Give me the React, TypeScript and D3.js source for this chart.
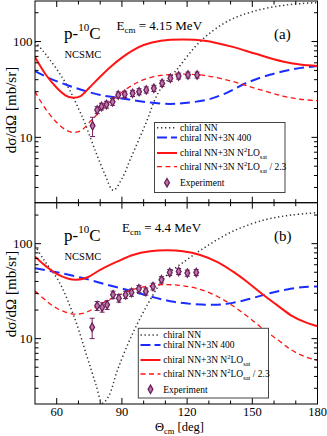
import React from "react";
import * as d3 from "d3";

// ---------- data (theta in deg, dσ/dΩ in mb/sr) ----------
const X_MAJOR = [60, 90, 120, 150, 180];
const X_MINOR = [70, 80, 100, 110, 130, 140, 160, 170];
const Y_MAJOR = [10, 100];
const Y_MINOR = [3, 4, 5, 6, 7, 8, 9, 20, 30, 40, 50, 60, 70, 80, 90, 200];
const X_LABELS = ["60", "90", "120", "150", "180"];
const Y_LABELS = ["10", "100"];

const chiralNN_a: [number, number][] = [
  [50, 100], [54, 78], [57, 64], [62, 44], [66, 31], [70, 20], [73, 14], [78, 7], [82, 4.2],
  [86, 2.8], [90, 3.7], [94, 6], [101, 14], [107, 30], [115, 50], [126, 100], [138, 160],
  [150, 205], [165, 240], [180, 255],
];
const n2loSat_a: [number, number][] = [
  [50, 69], [55, 45], [60, 33], [64, 27.5], [67, 26], [71, 27], [75, 33], [80, 43], [85, 55],
  [90, 68], [95, 81], [100, 92], [108, 102], [118, 105], [128, 102], [141, 88], [152, 74],
  [164, 62], [172, 57.5], [180, 55.5],
];
const n3n400_a: [number, number][] = [
  [50, 49], [57, 41], [65, 35], [72, 31], [80, 27.7], [90, 25.5], [100, 23.5], [112, 22.3],
  [120, 23], [129, 24.6], [138, 29], [147, 36.7], [158, 45], [170, 52], [180, 55.5],
];
const n2loSatScaled_a: [number, number][] = [
  [50, 30], [55, 19.6], [60, 14.3], [64, 12], [67, 11.3], [71, 11.7], [75, 14.3], [80, 18.7],
  [85, 23.9], [90, 29.6], [95, 35.2], [100, 40], [108, 44.3], [118, 45.7], [128, 44.3],
  [141, 38.3], [152, 32.2], [164, 27], [172, 25], [180, 24.1],
];
const expTheta_a = [76.5, 78.6, 80.6, 82.9, 85.7, 88.3, 91.3, 94.9, 97.9, 101.2, 104.7, 108.5, 112.3, 116.1, 120.4, 124.6];
const expVal_a = [13.2, 19.3, 21, 22, 23.5, 27.7, 28.2, 28.8, 30, 31.3, 32.5, 36.7, 41.4, 43.7, 44.8, 44.8];
const expErr_a = [3, 1.6, 1.7, 1.8, 1.9, 2.1, 2.1, 2.1, 2.2, 2.3, 2.4, 2.7, 3, 3.1, 3.2, 3.2];

const chiralNN_b: [number, number][] = [
  [50, 95], [54, 68], [61, 40], [68, 17], [74, 6.4], [78, 3.3], [81, 2.1], [84, 2.5], [88, 4.7],
  [95, 11.4], [103, 25.6], [110, 45], [120, 68], [129, 94], [141, 135], [156, 179], [168, 200],
  [180, 212],
];
const n2loSat_b: [number, number][] = [
  [50, 73], [55, 58], [60, 48], [65, 43], [69, 41.7], [74, 44], [80, 53], [88, 65], [95, 76],
  [103, 83], [111, 85], [118, 83], [126, 76], [134, 64], [141, 51], [148, 39], [155, 29],
  [162, 22], [168, 17.5], [174, 15], [180, 13.5],
];
const n3n400_b: [number, number][] = [
  [50, 55], [60, 50], [72, 43.4], [84, 36.5], [95, 31.4], [104, 27.5], [113, 24.6], [122, 23.2],
  [132, 22.7], [141, 23.8], [150, 26.7], [158, 30], [166, 33], [174, 35], [180, 35.4],
];
const n2loSatScaled_b: [number, number][] = [
  [50, 31.7], [55, 25.2], [60, 20.9], [65, 18.7], [69, 18.1], [74, 19.1], [80, 23], [88, 28.3],
  [95, 33], [103, 36.1], [111, 37], [118, 36.1], [126, 33], [134, 27.8], [141, 22.2], [148, 17],
  [155, 12.6], [162, 9.6], [168, 7.6], [174, 6.5], [180, 5.9],
];
const expTheta_b = [76.3, 78.6, 80.9, 83.2, 85.9, 88.6, 91.7, 94.4, 97.8, 101, 104.3, 108.2, 112, 116.1, 120.1, 124.2];
const expVal_b = [13.2, 22.2, 21.4, 22.7, 29, 26.7, 29, 30.6, 33.5, 31.4, 35.4, 41.7, 49.8, 51, 49, 49.8];
const expErr_b = [3.2, 2.4, 2.4, 2.4, 2.6, 2.5, 2.6, 2.7, 2.8, 2.7, 2.9, 3.2, 3.6, 3.7, 3.6, 3.6];

const LEGEND_LABELS = ["chiral NN", "chiral NN+3N 400", "chiral NN+3N N", "chiral NN+3N N", "Experiment"];

// ---------- layout ----------
const W = 327;
const H = 436;
const FONT = "'Liberation Serif', 'Times New Roman', serif";
const X0 = 35;
const X1 = 317.5;
const COL = {
  nn: "#333333",
  blue: "#1a2cff",
  red: "#ff1414",
  exp: "#6e1f5c",
  expFill: "#b87aa8",
};

type PanelProps = {
  top: number;
  bottom: number;
  yDomain: [number, number];
  nn: [number, number][];
  sat: [number, number][];
  n400: [number, number][];
  satScaled: [number, number][];
  expTheta: number[];
  expVal: number[];
  expErr: number[];
  energy: string;
  tag: string;
  id: string;
  labelY: number;
  legend: { x0: number; y0: number; x1: number; y1: number; rows: number[]; sx0: number; sx1: number; tx: number };
  bottomAxis: boolean;
};

function Panel(p: PanelProps) {
  const x = d3.scaleLinear().domain([50, 180]).range([X0, X1]);
  const y = d3.scaleLog().domain(p.yDomain).range([p.bottom, p.top]);
  const line = d3
    .line<[number, number]>()
    .x((d) => x(d[0]))
    .y((d) => y(d[1]))
    .curve(d3.curveCatmullRom.alpha(0.5));
  const clip = `clip-${p.id}`;
  const yMin = Math.min(...p.yDomain);
  const yMax = Math.max(...p.yDomain);
  const L = p.legend;
  const markerPath = d3.symbol().type(d3.symbolDiamond).size(20)() as string;
  return (
    <g>
      <defs>
        <clipPath id={clip}>
          <rect x={X0} y={p.top} width={X1 - X0} height={p.bottom - p.top} />
        </clipPath>
      </defs>
      <g clipPath={`url(#${clip})`} fill="none">
        <path d={line(p.nn) as string} stroke={COL.nn} strokeWidth={1.5} strokeDasharray="1.3 2.7" />
        <path d={line(p.n400) as string} stroke={COL.blue} strokeWidth={2} strokeDasharray="10 5" />
        <path d={line(p.sat) as string} stroke={COL.red} strokeWidth={2} />
        <path d={line(p.satScaled) as string} stroke={COL.red} strokeWidth={1.3} strokeDasharray="5 3.5" />
        {p.expTheta.map((t, i) => {
          const cx = x(t);
          const lo = y(p.expVal[i] - p.expErr[i]);
          const hi = y(p.expVal[i] + p.expErr[i]);
          return (
            <g key={i} stroke={COL.exp} strokeWidth={1}>
              <line x1={cx} x2={cx} y1={lo} y2={hi} />
              <line x1={cx - 2.5} x2={cx + 2.5} y1={lo} y2={lo} />
              <line x1={cx - 2.5} x2={cx + 2.5} y1={hi} y2={hi} />
              <path d={markerPath} transform={`translate(${cx},${y(p.expVal[i])})`} fill={COL.expFill} strokeWidth={1.3} />
            </g>
          );
        })}
      </g>
      {/* frame */}
      <rect x={X0} y={p.top} width={X1 - X0} height={p.bottom - p.top} fill="none" stroke="#000" strokeWidth={1} />
      {/* x ticks top & bottom */}
      {X_MAJOR.concat(X_MINOR).map((t) => {
        const len = X_MAJOR.includes(t) ? 6 : 3.5;
        return (
          <g key={`xt${t}`} stroke="#000" strokeWidth={1}>
            <line x1={x(t)} x2={x(t)} y1={p.top} y2={p.top + len} />
            <line x1={x(t)} x2={x(t)} y1={p.bottom} y2={p.bottom - len} />
          </g>
        );
      })}
      {/* y ticks left & right */}
      {Y_MAJOR.concat(Y_MINOR)
        .filter((v) => v > yMin && v < yMax)
        .map((v) => {
          const len = Y_MAJOR.includes(v) ? 6 : 3.5;
          return (
            <g key={`yt${v}`} stroke="#000" strokeWidth={1}>
              <line x1={X0} x2={X0 + len} y1={y(v)} y2={y(v)} />
              <line x1={X1} x2={X1 - len} y1={y(v)} y2={y(v)} />
            </g>
          );
        })}
      {Y_MAJOR.map((v, i) => (
        <text key={`yl${v}`} x={X0 - 2.5} y={y(v) + 4.5} textAnchor="end" fontSize={13} fontFamily={FONT}>
          {Y_LABELS[i]}
        </text>
      ))}
      {p.bottomAxis &&
        X_MAJOR.map((t, i) => (
          <text key={`xl${t}`} x={x(t)} y={p.bottom + 11.5} textAnchor="middle" fontSize={12.5} fontFamily={FONT}>
            {X_LABELS[i]}
          </text>
        ))}
      {/* y label */}
      <text
        transform={`translate(15.5,${p.labelY}) rotate(-90)`}
        textAnchor="middle"
        fontSize={15}
        fontFamily={FONT}
      >
        dσ/dΩ [mb/sr]
      </text>
      {/* annotations */}
      <text x={64} y={p.top + 38} fontSize={17} fontFamily={FONT}>
        p-<tspan fontSize={11} dy={-8}>10</tspan>
        <tspan dy={8}>C</tspan>
      </text>
      <text x={64.5} y={p.top + 57} fontSize={10.5} fontFamily={FONT}>
        NCSMC
      </text>
      <text x={p.id === "a" ? 116.5 : 122} y={p.top + 29} fontSize={13} fontFamily={FONT}>
        E<tspan fontSize={9} dy={3}>cm</tspan>
        <tspan dy={-3}> = {p.energy}</tspan>
      </text>
      <text x={274} y={p.top + 38} fontSize={15} fontFamily={FONT}>
        {p.tag}
      </text>
      {/* legend */}
      <rect x={L.x0} y={L.y0} width={L.x1 - L.x0} height={L.y1 - L.y0} fill="#fff" stroke="#444" strokeWidth={1} />
      <line x1={L.sx0} x2={L.sx1} y1={L.rows[0]} y2={L.rows[0]} stroke={COL.nn} strokeWidth={1.5} strokeDasharray="1.3 2.7" />
      <line x1={L.sx0} x2={L.sx1} y1={L.rows[1]} y2={L.rows[1]} stroke={COL.blue} strokeWidth={2} strokeDasharray="10 4" />
      <line x1={L.sx0} x2={L.sx1} y1={L.rows[2]} y2={L.rows[2]} stroke={COL.red} strokeWidth={2} />
      <line x1={L.sx0} x2={L.sx1} y1={L.rows[3]} y2={L.rows[3]} stroke={COL.red} strokeWidth={1.3} strokeDasharray="5 3.5" />
      <path
        d={markerPath}
        transform={`translate(${(L.sx0 + L.sx1) / 2},${L.rows[4]})`}
        fill={COL.expFill}
        stroke={COL.exp}
        strokeWidth={1.3}
      />
      <g fontSize={9.5} fontFamily={FONT}>
        <text x={L.tx} y={L.rows[0] + 3.3}>{LEGEND_LABELS[0]}</text>
        <text x={L.tx} y={L.rows[1] + 3.3}>{LEGEND_LABELS[1]}</text>
        <text x={L.tx} y={L.rows[2] + 3.3}>
          {LEGEND_LABELS[2]}
          <tspan fontSize={6.5} dy={-4}>2</tspan>
          <tspan dy={4}>LO</tspan>
          <tspan fontSize={6.5} dy={2.5}>sat</tspan>
        </text>
        <text x={L.tx} y={L.rows[3] + 3.3}>
          {LEGEND_LABELS[3]}
          <tspan fontSize={6.5} dy={-4}>2</tspan>
          <tspan dy={4}>LO</tspan>
          <tspan fontSize={6.5} dy={2.5}>sat</tspan>
          <tspan dy={-2.5}> / 2.3</tspan>
        </text>
        <text x={L.tx} y={L.rows[4] + 3.3}>{LEGEND_LABELS[4]}</text>
      </g>
    </g>
  );
}

export default function App() {
  return (
    <div style={{ position: "fixed", left: 0, top: 0, width: W, height: H, background: "#fff" }}>
      <svg width={W} height={H} viewBox={`0 0 ${W} ${H}`} style={{ display: "block" }}>
        <rect width={W} height={H} fill="#fff" />
        <Panel
          id="a"
          top={1}
          bottom={202.7}
          yDomain={[2.08, 265]}
          nn={chiralNN_a}
          sat={n2loSat_a}
          n400={n3n400_a}
          satScaled={n2loSatScaled_a}
          expTheta={expTheta_a}
          expVal={expVal_a}
          expErr={expErr_a}
          energy="4.15 MeV"
          tag="(a)"
          labelY={110}
          legend={{ x0: 154.5, y0: 122.5, x1: 285, y1: 192.5, rows: [127.7, 137.5, 153, 166.7, 182.7], sx0: 157, sx1: 177, tx: 180 }}
          bottomAxis={false}
        />
        <Panel
          id="b"
          top={202.7}
          bottom={404}
          yDomain={[2.05, 270]}
          nn={chiralNN_b}
          sat={n2loSat_b}
          n400={n3n400_b}
          satScaled={n2loSatScaled_b}
          expTheta={expTheta_b}
          expVal={expVal_b}
          expErr={expErr_b}
          energy="4.4 MeV"
          tag="(b)"
          labelY={294}
          legend={{ x0: 138.3, y0: 328.3, x1: 268.5, y1: 398, rows: [335, 345, 360, 374, 389.3], sx0: 140.5, sx1: 160.5, tx: 163.3 }}
          bottomAxis={true}
        />
        <text x={155} y={431} fontSize={12.5} fontFamily={FONT}>
          Θ<tspan fontSize={8.5} dy={2.5}>cm</tspan>
          <tspan dy={-2.5}> [deg]</tspan>
        </text>
      </svg>
    </div>
  );
}
